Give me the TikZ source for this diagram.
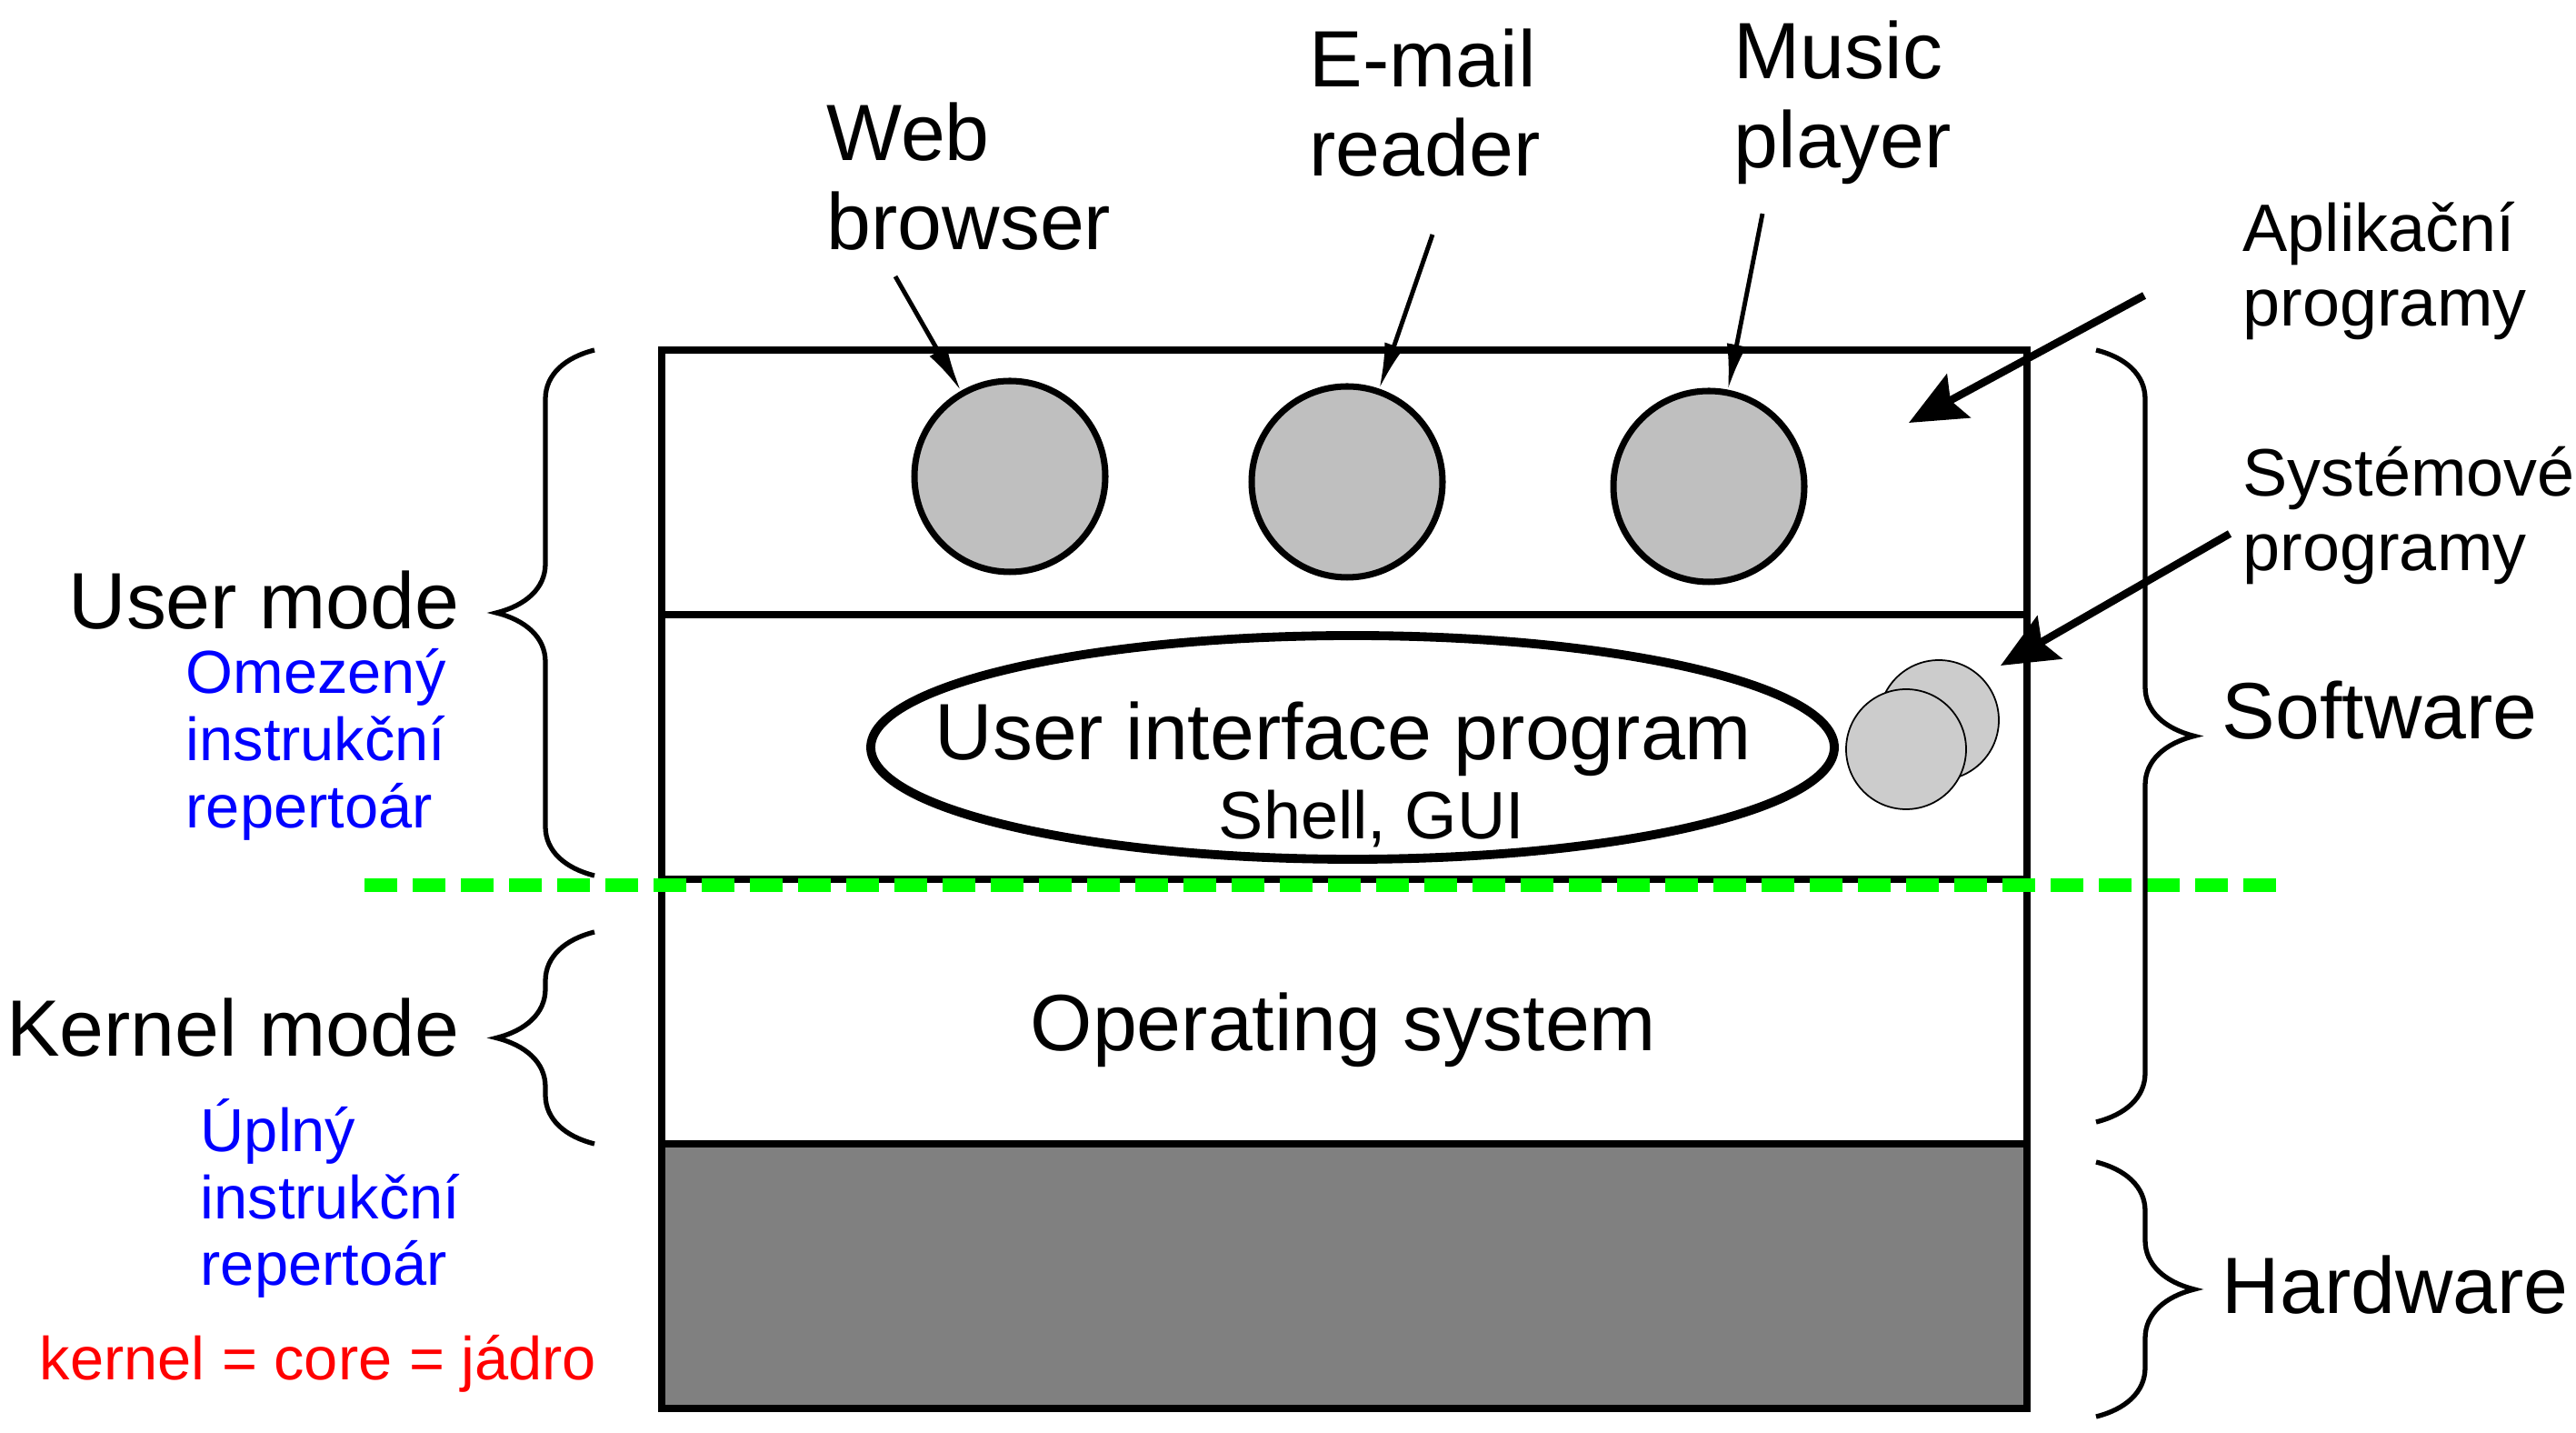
\documentclass[tikz,border=0pt]{standalone}
\usepackage{fontspec}
\usepackage{tikz}
\usepackage{xcolor}
\usetikzlibrary{
    arrows.meta,
    decorations.pathreplacing,
    shapes.geometric
}
\setmainfont{Liberation Sans}
\definecolor{modeblue}{rgb}{0, 0, 1}
\definecolor{corered}{rgb}{1, 0, 0}
\definecolor{splitgreen}{rgb}{0, 1, 0}
\definecolor{appgray}{rgb}{0.75, 0.75, 0.75}
\definecolor{sysgray}{rgb}{0.8, 0.8, 0.8}
\definecolor{hwgray}{rgb}{0.5, 0.5, 0.5}

\begin{document}
\begin{tikzpicture}[
    layer/.style={draw, line width=2.2pt, minimum width=15.02cm, minimum height=2.91cm, inner sep=0pt},
    app/.style={draw, circle, fill=appgray, line width=2pt, minimum size=2.1cm, inner sep=0pt},
    sysprog/.style={draw, circle, fill=sysgray, line width=0.5pt, minimum size=1.32cm, inner sep=0pt},
    lbl/.style={inner sep=0pt, align=left, font=\fontsize{25}{28}\selectfont},
    note/.style={inner sep=0pt, align=left, font=\fontsize{21}{23.5}\selectfont},
    czech/.style={inner sep=0pt, align=left, font=\fontsize{19}{21}\selectfont},
    bracket/.style={decorate, line width=1.5pt, decoration={brace, amplitude=0.54cm, transform={yscale=2}}},
    thinarrow/.style={-{Latex[length=0.5cm, width=0.22cm]}, line width=1.4pt},
    thickarrow/.style={-{Stealth[length=0.62cm, width=0.54cm, inset=0.1cm]}, line width=2.4pt}
]
    \useasboundingbox (0,0) rectangle (28.34,15.76);

    % layers
    \node[layer] (apps)  at (14.79, 10.455) {};
    \node[layer] (shell) at (14.79, 7.545) {};
    \node[layer] (os)    at (14.79, 4.635) {};
    \node[layer, fill=hwgray] (hw) at (14.79, 1.725) {};

    % programs
    \node[app] (web)   at (11.11, 10.52) {};
    \node[app] (email) at (14.82, 10.46) {};
    \node[app] (music) at (18.80, 10.41) {};

    \node[draw, ellipse, line width=2.8pt, minimum width=10.6cm, minimum height=2.46cm] (uip) at (14.88, 7.54) {};
    \node[sysprog] (sysback)  at (21.33, 7.84) {};
    \node[sysprog] (sysfront) at (20.97, 7.52) {};

    \node[lbl, align=center] (uiplbl) at (14.78, 7.63) {User interface program};
    \node[note, align=center] (shelllbl) at (15.09, 6.76) {Shell, GUI};
    \node[lbl, align=center] (oslbl) at (14.78, 4.43) {Operating system};

    % user / kernel boundary
    \draw[splitgreen, line width=0.15cm, dash pattern=on 0.36cm off 0.17cm] (4.01, 6.02) -- (25.12, 6.02);

    % labels on top
    \node[lbl, anchor=west] (weblbl)   at (9.09, 13.82) {Web\\browser};
    \node[lbl, anchor=west] (emaillbl) at (14.40, 14.63) {E-mail\\reader};
    \node[lbl, anchor=west] (musiclbl) at (19.07, 14.63) {Music\\player};

    \coordinate (webtail)   at (9.85, 12.72);
    \coordinate (emailtail) at (15.76, 13.18);
    \coordinate (musictail) at (19.39, 13.41);
    \draw[thinarrow] (webtail) -- (web);
    \draw[thinarrow] (emailtail) -- (email);
    \draw[thinarrow] (musictail) -- (music);

    % right side
    \node[note, anchor=west] (applbl) at (24.67, 12.78) {Aplikační\\programy};
    \node[note, anchor=west] (syslbl) at (24.67, 10.09) {Systémové\\programy};
    \coordinate (apptail) at (23.59, 12.51);
    \coordinate (apphead) at (21.00, 11.11);
    \coordinate (systail) at (24.53, 9.89);
    \coordinate (syshead) at (22.01, 8.44);
    \draw[thickarrow] (apptail) -- (apphead);
    \draw[thickarrow] (systail) -- (syshead);

    \draw[bracket] (23.06, 11.91) -- (23.06, 3.42);
    \draw[bracket] (23.06, 2.98) -- (23.06, 0.18);
    \node[lbl, anchor=west] (swlbl) at (24.44, 7.95) {Software};
    \node[lbl, anchor=west] (hwlbl) at (24.44, 1.63) {Hardware};

    % left side
    \draw[bracket] (6.54, 6.13) -- (6.54, 11.91);
    \draw[bracket] (6.54, 3.18) -- (6.54, 5.51);
    \node[lbl, anchor=east] (userlbl)   at (5.06, 9.16) {User mode};
    \node[lbl, anchor=east] (kernellbl) at (5.06, 4.46) {Kernel mode};
    \node[czech, anchor=west, text=modeblue] (userset)   at (2.04, 7.57) {Omezený\\instrukční\\repertoár};
    \node[czech, anchor=west, text=modeblue] (kernelset) at (2.20, 2.58) {Úplný\\instrukční\\repertoár};
    \node[czech, anchor=west, text=corered] (corelbl) at (0.43, 0.76) {kernel = core = jádro};
\end{tikzpicture}
\end{document}
